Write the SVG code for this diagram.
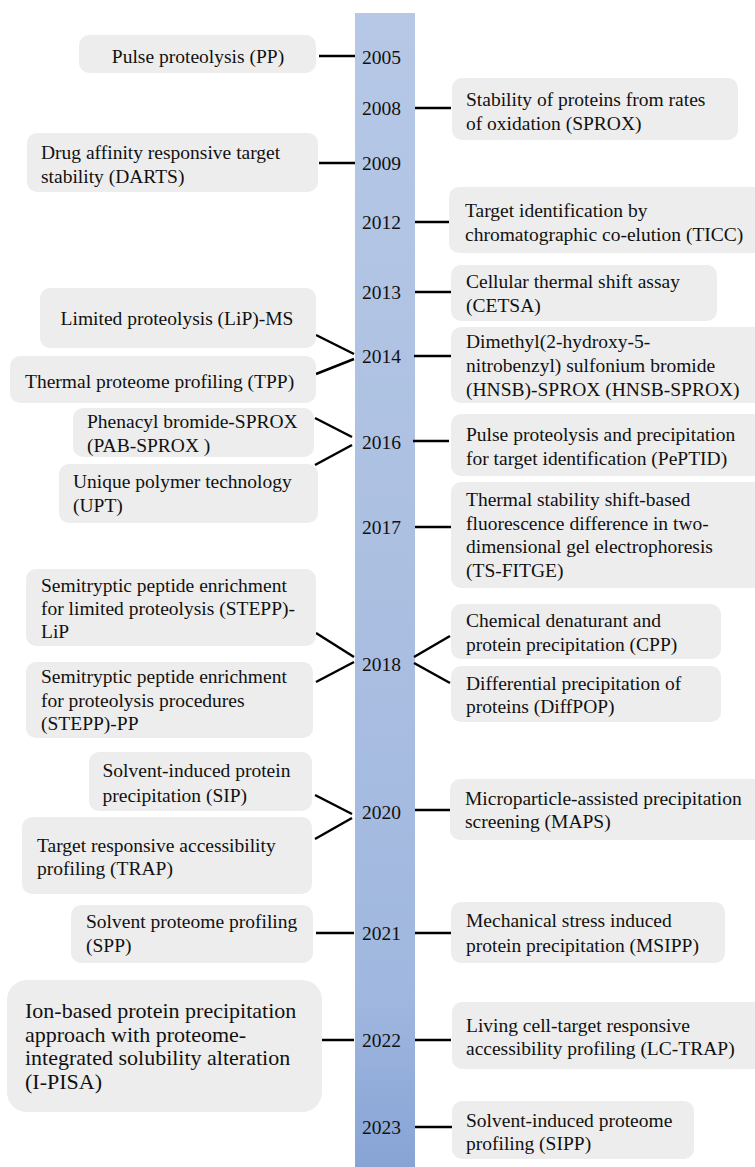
<svg xmlns="http://www.w3.org/2000/svg" width="755" height="1167" viewBox="0 0 755 1167">
<style>
.box{fill:#ededed;}
.t{font-family:"Liberation Serif","Times New Roman",serif;font-size:19.5px;fill:#111;}
.big{font-size:22px;}
.yr{font-family:"Liberation Serif","Times New Roman",serif;font-size:19.5px;fill:#111;text-anchor:middle;}
.c{stroke:#000;stroke-width:2.5;fill:none;}
</style>
<defs>
<linearGradient id="bar" x1="0" y1="0" x2="0" y2="1">
<stop offset="0" stop-color="#b6c8e6"/>
<stop offset="0.5" stop-color="#abbfe1"/>
<stop offset="0.85" stop-color="#a0b7df"/>
<stop offset="1" stop-color="#86a3d5"/>
</linearGradient>
</defs>
<rect id="timeline" x="355" y="13" width="60" height="1160" fill="url(#bar)"/>
<g id="years">
<text class="yr" x="381.5" y="64">2005</text>
<text class="yr" x="381.5" y="115">2008</text>
<text class="yr" x="381.5" y="170">2009</text>
<text class="yr" x="381.5" y="229">2012</text>
<text class="yr" x="381.5" y="299">2013</text>
<text class="yr" x="381.5" y="363">2014</text>
<text class="yr" x="381.5" y="449">2016</text>
<text class="yr" x="381.5" y="534">2017</text>
<text class="yr" x="381.5" y="671">2018</text>
<text class="yr" x="381.5" y="819">2020</text>
<text class="yr" x="381.5" y="940">2021</text>
<text class="yr" x="381.5" y="1047">2022</text>
<text class="yr" x="381.5" y="1134">2023</text>
</g>
<g id="connectors">
<line class="c" x1="319" y1="56" x2="355" y2="56"/>
<line class="c" x1="415" y1="108" x2="451" y2="108"/>
<line class="c" x1="319" y1="163" x2="355" y2="163"/>
<line class="c" x1="415" y1="222" x2="451" y2="222"/>
<line class="c" x1="415" y1="292" x2="451" y2="292"/>
<line class="c" x1="316" y1="335" x2="354" y2="354"/>
<line class="c" x1="354" y1="359" x2="316" y2="374"/>
<line class="c" x1="414" y1="356" x2="451" y2="356"/>
<line class="c" x1="315" y1="418" x2="352" y2="437"/>
<line class="c" x1="352" y1="445" x2="315" y2="465"/>
<line class="c" x1="413" y1="441" x2="449" y2="441"/>
<line class="c" x1="415" y1="527" x2="451" y2="527"/>
<line class="c" x1="316" y1="633" x2="354" y2="657"/>
<line class="c" x1="354" y1="662" x2="316" y2="682"/>
<line class="c" x1="450" y1="636" x2="414" y2="657"/>
<line class="c" x1="414" y1="663" x2="450" y2="683"/>
<line class="c" x1="315" y1="795" x2="352" y2="814"/>
<line class="c" x1="352" y1="818" x2="315" y2="839"/>
<line class="c" x1="415" y1="810" x2="450" y2="810"/>
<line class="c" x1="316" y1="933" x2="354" y2="933"/>
<line class="c" x1="415" y1="933" x2="451" y2="933"/>
<line class="c" x1="322" y1="1040" x2="354" y2="1040"/>
<line class="c" x1="415" y1="1040" x2="451" y2="1040"/>
<line class="c" x1="415" y1="1127" x2="452" y2="1127"/>
</g>
<g id="n-pp"><rect class="box" x="79" y="35" width="237" height="38" rx="10"/><text class="t" x="198" y="62.5" text-anchor="middle">Pulse proteolysis (PP)</text></g>
<g id="n-darts"><rect class="box" x="27" y="133" width="291" height="59" rx="10"/><text class="t" x="41" y="159">Drug affinity responsive target</text><text class="t" x="41" y="183">stability (DARTS)</text></g>
<g id="n-lip"><rect class="box" x="40" y="288" width="276" height="60" rx="10"/><text class="t" x="177" y="325" text-anchor="middle">Limited proteolysis (LiP)-MS</text></g>
<g id="n-tpp"><rect class="box" x="10" y="356" width="306" height="47" rx="10"/><text class="t" x="25" y="388">Thermal proteome profiling (TPP)</text></g>
<g id="n-pab"><rect class="box" x="73" y="408" width="241" height="49" rx="10"/><text class="t" x="87" y="428">Phenacyl bromide-SPROX</text><text class="t" x="87" y="452">(PAB-SPROX )</text></g>
<g id="n-upt"><rect class="box" x="59" y="464" width="259" height="59" rx="10"/><text class="t" x="73" y="488">Unique polymer technology</text><text class="t" x="73" y="512">(UPT)</text></g>
<g id="n-stepp-lip"><rect class="box" x="26" y="569" width="290" height="77" rx="10"/><text class="t" x="41" y="592">Semitryptic peptide enrichment</text><text class="t" x="41" y="615">for limited proteolysis (STEPP)-</text><text class="t" x="41" y="638">LiP</text></g>
<g id="n-stepp-pp"><rect class="box" x="26" y="662" width="287" height="76" rx="10"/><text class="t" x="41" y="683">Semitryptic peptide enrichment</text><text class="t" x="41" y="707">for proteolysis procedures</text><text class="t" x="41" y="730">(STEPP)-PP</text></g>
<g id="n-sip"><rect class="box" x="89" y="752" width="223" height="59" rx="10"/><text class="t" x="102.5" y="777">Solvent-induced protein</text><text class="t" x="102.5" y="802">precipitation (SIP)</text></g>
<g id="n-trap"><rect class="box" x="22" y="817" width="290" height="77" rx="10"/><text class="t" x="37" y="852">Target responsive accessibility</text><text class="t" x="37" y="875">profiling (TRAP)</text></g>
<g id="n-spp"><rect class="box" x="71" y="905" width="242" height="58" rx="10"/><text class="t" x="86" y="928">Solvent proteome profiling</text><text class="t" x="86" y="952">(SPP)</text></g>
<g id="n-ipisa"><rect class="box" x="7" y="980" width="315" height="132" rx="20"/><text class="t big" x="25" y="1018">Ion-based protein precipitation</text><text class="t big" x="25" y="1042">approach with proteome-</text><text class="t big" x="25" y="1065">integrated solubility alteration</text><text class="t big" x="25" y="1089">(I-PISA)</text></g>
<g id="n-sprox"><rect class="box" x="452" y="78" width="286" height="62" rx="10"/><text class="t" x="466" y="106">Stability of proteins from rates</text><text class="t" x="466" y="130">of oxidation (SPROX)</text></g>
<g id="n-ticc"><rect class="box" x="449" y="187" width="316" height="66" rx="10"/><text class="t" x="465" y="217">Target identification by</text><text class="t" x="465" y="241">chromatographic co-elution (TICC)</text></g>
<g id="n-cetsa"><rect class="box" x="451" y="265" width="266" height="56" rx="10"/><text class="t" x="466" y="288">Cellular thermal shift assay</text><text class="t" x="466" y="312">(CETSA)</text></g>
<g id="n-hnsb"><rect class="box" x="451" y="327" width="314" height="76" rx="10"/><text class="t" x="466" y="348">Dimethyl(2-hydroxy-5-</text><text class="t" x="466" y="372">nitrobenzyl) sulfonium bromide</text><text class="t" x="466" y="396">(HNSB)-SPROX (HNSB-SPROX)</text></g>
<g id="n-peptid"><rect class="box" x="451" y="414" width="314" height="62" rx="10"/><text class="t" x="466" y="441">Pulse proteolysis and precipitation</text><text class="t" x="466" y="465">for target identification (PePTID)</text></g>
<g id="n-tsfitge"><rect class="box" x="451" y="482" width="314" height="106" rx="10"/><text class="t" x="466" y="506">Thermal stability shift-based</text><text class="t" x="466" y="530">fluorescence difference in two-</text><text class="t" x="466" y="553">dimensional gel electrophoresis</text><text class="t" x="466" y="577">(TS-FITGE)</text></g>
<g id="n-cpp"><rect class="box" x="451" y="604" width="270" height="55" rx="10"/><text class="t" x="466" y="627">Chemical denaturant and</text><text class="t" x="466" y="651">protein precipitation (CPP)</text></g>
<g id="n-diffpop"><rect class="box" x="451" y="666" width="270" height="56" rx="10"/><text class="t" x="466" y="690">Differential precipitation of</text><text class="t" x="466" y="713">proteins (DiffPOP)</text></g>
<g id="n-maps"><rect class="box" x="450" y="779" width="315" height="61" rx="10"/><text class="t" x="465" y="805">Microparticle-assisted precipitation</text><text class="t" x="465" y="828">screening (MAPS)</text></g>
<g id="n-msipp"><rect class="box" x="451" y="902" width="274" height="61" rx="10"/><text class="t" x="466" y="927">Mechanical stress induced</text><text class="t" x="466" y="952">protein precipitation (MSIPP)</text></g>
<g id="n-lctrap"><rect class="box" x="452" y="1002" width="313" height="67" rx="10"/><text class="t" x="466" y="1032">Living cell-target responsive</text><text class="t" x="466" y="1055">accessibility profiling (LC-TRAP)</text></g>
<g id="n-sipp"><rect class="box" x="452" y="1101" width="242" height="58" rx="10"/><text class="t" x="466" y="1127">Solvent-induced proteome</text><text class="t" x="466" y="1150">profiling (SIPP)</text></g>
</svg>
